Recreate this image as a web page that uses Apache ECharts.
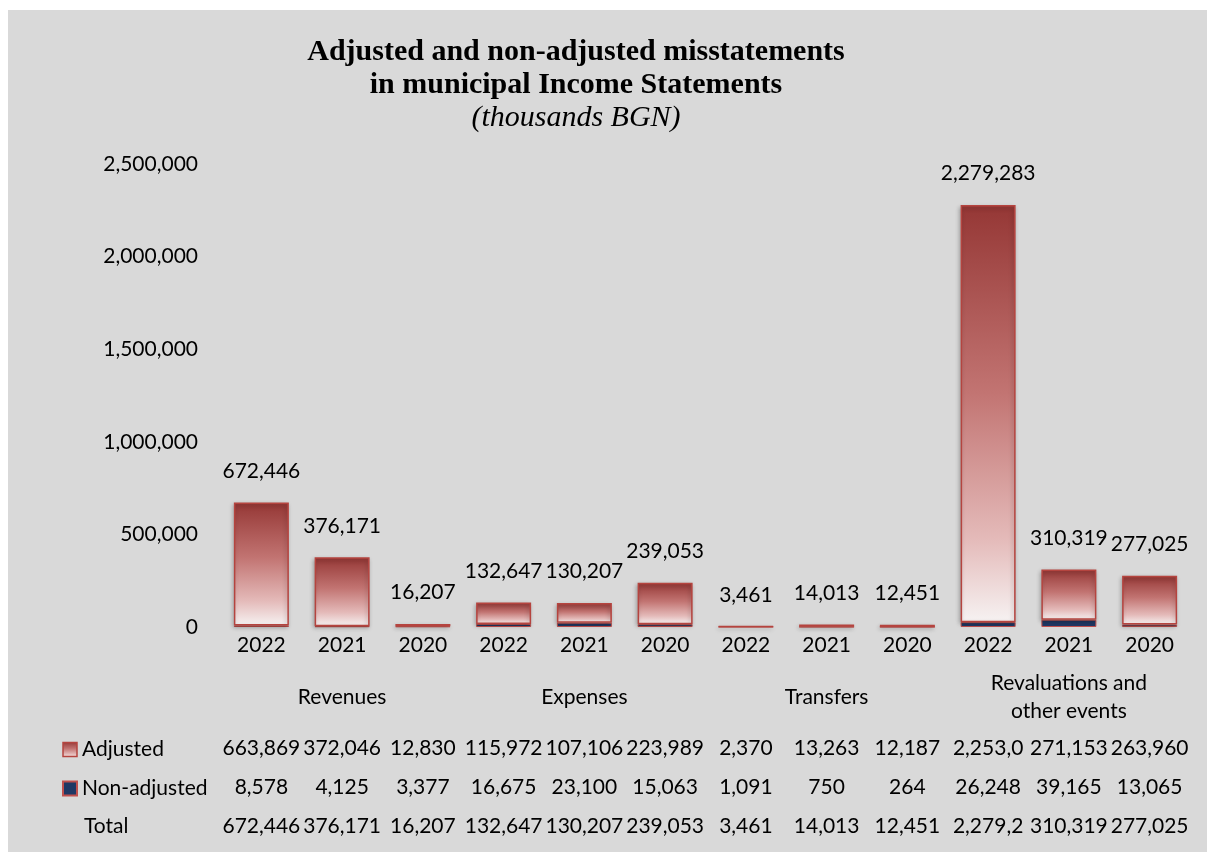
<!DOCTYPE html>
<html>
<head>
<meta charset="utf-8">
<script src="https://cdn.jsdelivr.net/npm/echarts@6/dist/echarts.min.js"></script>
<style>
  html, body { margin: 0; padding: 0; background: #ffffff; }
  #chart { width: 1207px; height: 852px; }
</style>
</head>
<body>
<div id="chart"></div>
<script>
// Categories: three reporting years inside each statement group
const years = ['2022', '2021', '2020', '2022', '2021', '2020', '2022', '2021', '2020', '2022', '2021', '2020'];
const groups = ['Revenues', 'Expenses', 'Transfers', 'Revaluations and\nother events'];

// Misstatements, thousands BGN
const adjusted    = [663869, 372046, 12830, 115972, 107106, 223989, 2370, 13263, 12187, 2253035, 271153, 263960];
const nonAdjusted = [8578, 4125, 3377, 16675, 23100, 15063, 1091, 750, 264, 26248, 39165, 13065];
const totals      = [672446, 376171, 16207, 132647, 130207, 239053, 3461, 14013, 12451, 2279283, 310319, 277025];

// Value axis ticks
const yMax = 2500000;
const yStep = 500000;

const fmt = v => Number(v).toLocaleString('en-US');
const FONT = 'Lato';
const RED_EDGE = '#b5443f';

const redFill = new echarts.graphic.LinearGradient(0, 0, 0, 1, [
  { offset: 0, color: '#953735' },
  { offset: 0.45, color: '#c27472' },
  { offset: 0.8, color: '#e4bab9' },
  { offset: 1, color: '#f6f2f2' }
]);
const navyFill = '#1f3864';

const chart = echarts.init(document.getElementById('chart'), null, { renderer: 'canvas' });

// Row of the data table under the plot, built as an extra category axis
function tableRow(values, centerY) {
  return {
    type: 'category',
    gridIndex: 0,
    position: 'bottom',
    data: values.map(fmt),
    axisLine: { show: false },
    axisTick: { show: false },
    axisLabel: {
      interval: 0,
      margin: centerY - 627,
      verticalAlign: 'middle',
      fontFamily: FONT,
      fontSize: 21,
      color: '#000',
      width: 80,
      overflow: 'truncate',
      ellipsis: ''
    }
  };
}

const option = {
  animation: false,
  textStyle: { fontFamily: FONT },
  graphic: [
    {
      type: 'rect',
      z: -10,
      silent: true,
      shape: { x: 8, y: 10, width: 1199, height: 842 },
      style: { fill: '#d9d9d9' }
    },
    {
      type: 'text',
      left: 84,
      top: 816,
      silent: true,
      style: { text: 'Total', fontFamily: FONT, fontSize: 21, fill: '#000' }
    }
  ],
  title: {
    text: 'Adjusted and non-adjusted misstatements\nin municipal Income Statements',
    subtext: '(thousands BGN)',
    left: 576,
    top: 36,
    textAlign: 'center',
    padding: 0,
    itemGap: 0,
    textStyle: {
      fontFamily: 'Liberation Serif',
      fontWeight: 'bold',
      fontSize: 30,
      lineHeight: 33,
      color: '#000'
    },
    subtextStyle: {
      fontFamily: 'Liberation Serif',
      fontStyle: 'italic',
      fontSize: 30,
      lineHeight: 33,
      color: '#000'
    }
  },
  legend: {
    orient: 'vertical',
    left: 62,
    top: 739,
    padding: 0,
    icon: 'rect',
    itemWidth: 14,
    itemHeight: 14,
    itemGap: 18,
    selectedMode: false,
    textStyle: { fontFamily: FONT, fontSize: 21, lineHeight: 21, color: '#000' },
    data: [
      { name: 'Adjusted', itemStyle: { borderColor: RED_EDGE, borderWidth: 1.5 } },
      { name: 'Non-adjusted', itemStyle: { borderColor: '#c0504d', borderWidth: 2 } }
    ]
  },
  grid: {
    left: 221,
    right: 17,
    top: 164,
    bottom: 225,
    outerBoundsMode: 'none'
  },
  xAxis: [
    {
      type: 'category',
      gridIndex: 0,
      position: 'bottom',
      data: years,
      axisLine: { show: false },
      axisTick: { show: false },
      axisLabel: {
        interval: 0,
        margin: 18,
        verticalAlign: 'middle',
        fontFamily: FONT,
        fontSize: 21,
        color: '#000'
      }
    },
    {
      type: 'category',
      gridIndex: 0,
      position: 'bottom',
      data: groups,
      axisLine: { show: false },
      axisTick: { show: false },
      axisLabel: {
        interval: 0,
        margin: 70,
        verticalAlign: 'middle',
        fontFamily: FONT,
        fontSize: 21,
        lineHeight: 28,
        color: '#000'
      }
    },
    tableRow(adjusted, 748),
    tableRow(nonAdjusted, 787),
    tableRow(totals, 826)
  ],
  yAxis: {
    type: 'value',
    min: 0,
    max: yMax,
    interval: yStep,
    axisLine: { show: false },
    axisTick: { show: false },
    splitLine: { show: false },
    axisLabel: {
      margin: 23,
      fontFamily: FONT,
      fontSize: 21,
      color: '#000',
      formatter: v => fmt(v)
    }
  },
  series: [
    {
      name: 'Non-adjusted',
      type: 'bar',
      stack: 'misstatements',
      xAxisIndex: 0,
      barWidth: 55,
      data: nonAdjusted,
      itemStyle: { color: navyFill, borderColor: '#c0504d', borderWidth: 1 }
    },
    {
      name: 'Adjusted',
      type: 'bar',
      stack: 'misstatements',
      xAxisIndex: 0,
      barWidth: 55,
      data: adjusted,
      itemStyle: {
        color: redFill,
        borderColor: RED_EDGE,
        borderWidth: 1.5,
        shadowColor: 'rgba(0,0,0,0.25)',
        shadowBlur: 4,
        shadowOffsetX: -1,
        shadowOffsetY: 2
      }
    },
    {
      name: 'Total',
      type: 'bar',
      xAxisIndex: 0,
      barWidth: 55,
      barGap: '-100%',
      data: totals,
      silent: true,
      itemStyle: { color: 'rgba(0,0,0,0)' },
      label: {
        show: true,
        position: 'top',
        distance: 21,
        fontFamily: FONT,
        fontSize: 21,
        lineHeight: 21,
        color: '#000',
        formatter: p => fmt(p.value)
      }
    }
  ]
};

chart.setOption(option);
</script>
</body>
</html>
